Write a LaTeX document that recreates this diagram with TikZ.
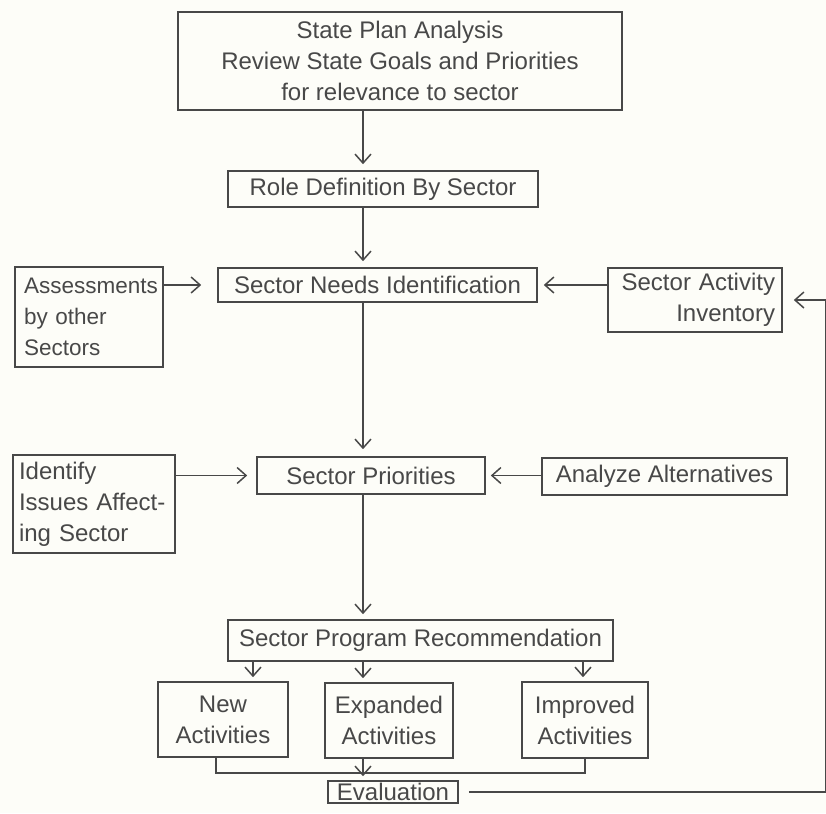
\documentclass[tikz,border=0pt]{standalone}
\usepackage{fontspec}
\setmainfont{Liberation Sans}
\usetikzlibrary{arrows.meta}
\definecolor{ink}{RGB}{72,72,72}
\definecolor{paper}{RGB}{253,253,248}
\tikzstyle{block}=[draw=ink,text=ink,line width=1.6pt,inner sep=0pt,align=center]
\tikzstyle{arrow}=[-{Straight Barb[length=9pt,width=16pt,line width=1.5pt]},draw=ink,line width=1.5pt]
\tikzstyle{link}=[draw=ink,line width=1.5pt]
\tikzset{every picture/.style={
    x=1pt,y=-1pt
  },
  every node/.style={font=\fontsize{24}{31}\selectfont}
}

\begin{document}
\begin{tikzpicture}
      \fill[paper] (0,0) rectangle (826,813);
      \useasboundingbox (0,0) rectangle (826,813);
      \coordinate (spine) at (363,0);
      % main column
      \node[block,minimum width=444pt,minimum height=98pt] at (400,61) (plan) {State Plan Analysis\\Review State Goals and Priorities\\for relevance to sector};
      \node[block,minimum width=310pt,minimum height=36pt] at (383,189) (role) {Role Definition By Sector};
      \node[block,minimum width=319pt,minimum height=34pt] at (377.5,285) (needs) {Sector Needs Identification};
      \node[block,minimum width=228pt,minimum height=37pt] at (371,475.5) (prio) {Sector Priorities};
      \node[block,minimum width=385pt,minimum height=41pt] at (420.5,640.5) (rec) {Sector Program Recommendation};
      % side inputs
      \node[block,minimum height=100pt,inner xsep=3pt,text width=142pt,align=left,font=\fontsize{22.5}{31}\selectfont] at (89,317) (assess) {\hspace*{6pt}Assessments\\\hspace*{6pt}by other\\\hspace*{6pt}Sectors};
      \node[block,minimum height=64pt,inner xsep=7pt,text width=160pt,align=right] at (695,300) (inventory) {Sector Activity\\Inventory};
      \node[block,minimum height=98pt,inner xsep=6pt,text width=150pt,align=left] at (94,504) (issues) {Identify\\Issues Affect-\\ing Sector};
      \node[block,minimum width=245pt,minimum height=37pt] at (664.5,476.5) (analyze) {Analyze Alternatives};
      % activities
      \node[block,minimum width=130pt,minimum height=75pt] at (223,719.5) (newact) {New\\Activities};
      \node[block,minimum width=128pt,minimum height=75pt] at (389,720.5) (expact) {Expanded\\Activities};
      \node[block,minimum width=126pt,minimum height=76pt] at (585,720) (impact) {Improved\\Activities};
      \node[block,minimum width=130pt,minimum height=22pt] at (393,792) (evalbox) {Evaluation};
      \coordinate (newin) at ([xshift=30pt]newact.north);
      \coordinate (newout) at ([xshift=-7pt]newact.south);
      \coordinate (join) at (0,773);
      \coordinate (fbbot) at (826,792);
      \coordinate (fbtop) at (826,300);

      \draw[arrow,shorten >=6pt] (plan.south -| spine) -- (role.north -| spine);
      \draw[arrow,shorten >=6pt] (role.south -| spine) -- (needs.north -| spine);
      \draw[arrow,shorten >=16pt] (assess.east |- needs.west) -- (needs.west);
      \draw[arrow,shorten >=6pt] (inventory.west |- needs.east) -- (needs.east);
      \draw[arrow,shorten >=7pt] (needs.south -| spine) -- (prio.north -| spine);
      \draw[arrow,shorten >=9pt] (issues.east |- prio.west) -- (prio.west);
      \draw[arrow,shorten >=5pt] (analyze.west |- prio.east) -- (prio.east);
      \draw[arrow,shorten >=5pt] (prio.south -| spine) -- (rec.north -| spine);
      \draw[arrow,shorten >=4pt] (rec.south -| newin) -- (newin);
      \draw[arrow,shorten >=4pt] (rec.south -| spine) -- (expact.north -| spine);
      \draw[arrow,shorten >=4pt] ([xshift=-2pt]rec.south -| impact.north) -- ([xshift=-2pt]impact.north);
      \draw[link] (newout) |- (impact.south |- join) -- (impact.south);
      \draw[arrow,shorten >=4pt] (expact.south -| spine) -- (evalbox.north -| spine);
      \draw[arrow,shorten <=10pt,shorten >=11pt] (evalbox.east) -- (fbbot) -- (fbtop) -- (inventory.east);
\end{tikzpicture}
\end{document}
